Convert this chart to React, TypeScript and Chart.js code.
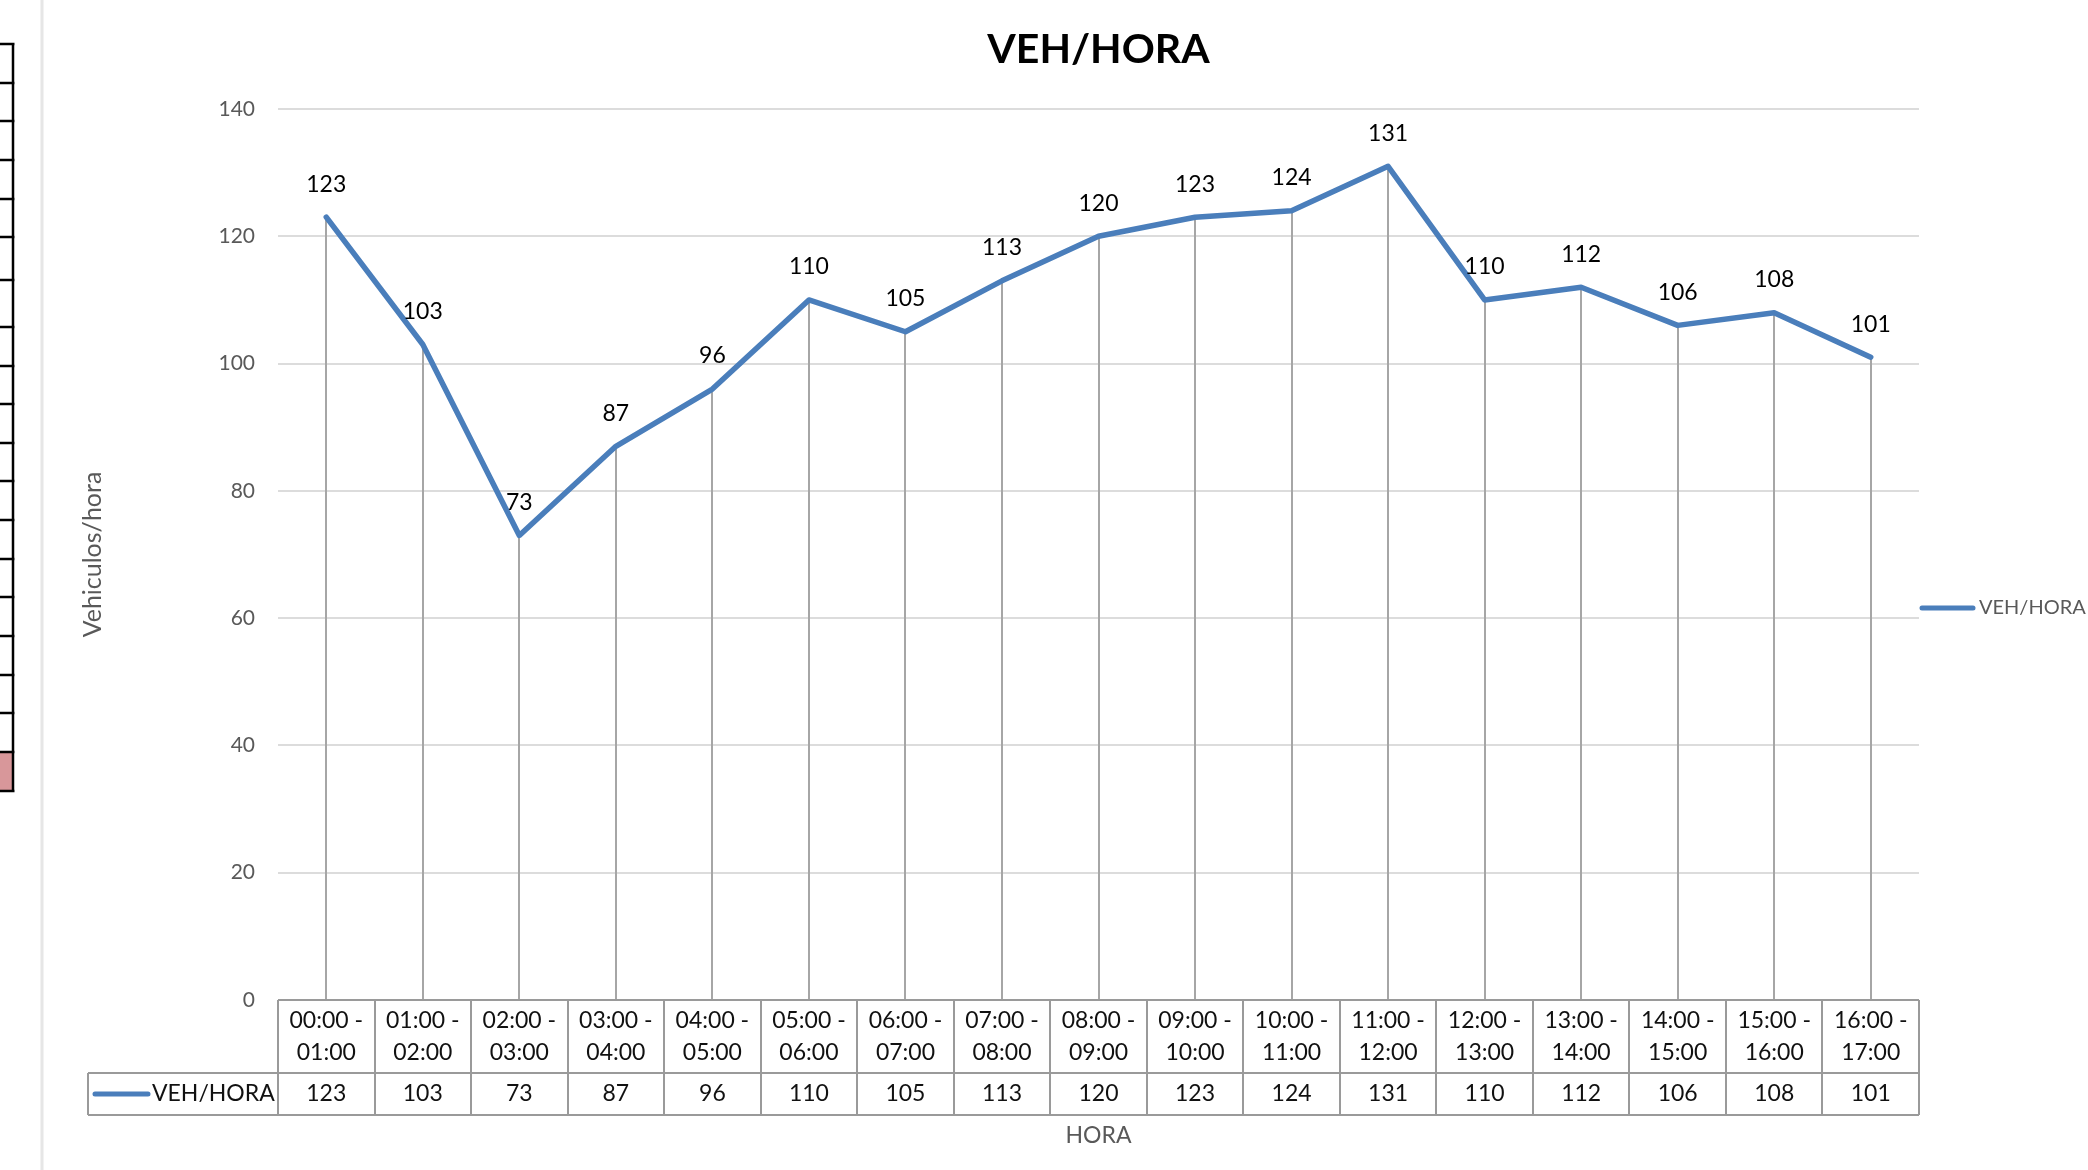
import React, { useEffect, useRef } from "react";
import { Chart, registerables } from "chart.js";

Chart.register(...registerables);

// ---------- data ----------
const categories = [
  "00:00 - 01:00",
  "01:00 - 02:00",
  "02:00 - 03:00",
  "03:00 - 04:00",
  "04:00 - 05:00",
  "05:00 - 06:00",
  "06:00 - 07:00",
  "07:00 - 08:00",
  "08:00 - 09:00",
  "09:00 - 10:00",
  "10:00 - 11:00",
  "11:00 - 12:00",
  "12:00 - 13:00",
  "13:00 - 14:00",
  "14:00 - 15:00",
  "15:00 - 16:00",
  "16:00 - 17:00",
];
const vehPerHour = [123, 103, 73, 87, 96, 110, 105, 113, 120, 123, 124, 131, 110, 112, 106, 108, 101];
const seriesName = "VEH/HORA";
const chartTitle = "VEH/HORA";
const yAxisTitle = "Vehiculos/hora";
const xAxisTitle = "HORA";
const yMin = 0;
const yMax = 140;
const yStep = 20;

// ---------- styles / layout ----------
const FONT = "Lato, 'Open Sans', 'DejaVu Sans', sans-serif";
const BLUE = "#4A7EBB";
const AXIS_GRAY = "#595959";
const W = 2088;
const H = 1170;
// decorative spreadsheet cells on the far left
const SHEET_ROW_EDGES = [44, 83, 121, 160, 199, 237, 280, 327, 366, 404, 443, 481, 520, 559, 597, 636, 675, 713, 752, 791];

const decorPlugin = {
  id: "decor",
  beforeDraw(chart: any) {
    const ctx = chart.ctx as CanvasRenderingContext2D;
    ctx.save();
    ctx.fillStyle = "#ffffff";
    ctx.fillRect(0, 0, chart.width, chart.height);
    const r = SHEET_ROW_EDGES;
    ctx.fillStyle = "#D8979A";
    ctx.fillRect(0, r[r.length - 2], 13, r[r.length - 1] - r[r.length - 2]);
    ctx.strokeStyle = "#000";
    ctx.lineWidth = 2.5;
    ctx.beginPath();
    for (const y of r) {
      ctx.moveTo(0, y);
      ctx.lineTo(14.5, y);
    }
    ctx.moveTo(13, r[0]);
    ctx.lineTo(13, r[r.length - 1]);
    ctx.stroke();
    ctx.strokeStyle = "#E6E6E6";
    ctx.lineWidth = 3;
    ctx.beginPath();
    ctx.moveTo(42, 0);
    ctx.lineTo(42, chart.height);
    ctx.stroke();
    ctx.restore();
  },
  beforeDatasetsDraw(chart: any) {
    const ctx = chart.ctx as CanvasRenderingContext2D;
    const meta = chart.getDatasetMeta(0);
    const bottom = chart.chartArea.bottom;
    ctx.save();
    ctx.strokeStyle = "#A6A6A6";
    ctx.lineWidth = 2;
    ctx.beginPath();
    meta.data.forEach((p: any) => {
      ctx.moveTo(Math.round(p.x), p.y);
      ctx.lineTo(Math.round(p.x), bottom);
    });
    ctx.stroke();
    ctx.restore();
  },
  afterDatasetsDraw(chart: any) {
    const ctx = chart.ctx as CanvasRenderingContext2D;
    const meta = chart.getDatasetMeta(0);
    ctx.save();
    ctx.fillStyle = "#000";
    ctx.font = `23px ${FONT}`;
    ctx.textAlign = "center";
    ctx.textBaseline = "middle";
    meta.data.forEach((p: any, i: number) => {
      ctx.fillText(String(vehPerHour[i]), p.x, p.y - 33);
    });
    ctx.restore();
  },
  afterDraw(chart: any) {
    const ctx = chart.ctx as CanvasRenderingContext2D;
    const { left, right, bottom } = chart.chartArea;
    const xs = chart.scales.x;
    const n = categories.length;
    const colW = (right - left) / n;
    const headTop = bottom;
    const headBot = bottom + 73;
    const valBot = bottom + 115;
    const legendLeft = 88;
    ctx.save();

    // title
    ctx.fillStyle = "#000";
    ctx.font = `bold 41px ${FONT}`;
    ctx.textAlign = "center";
    ctx.textBaseline = "middle";
    ctx.fillText(chartTitle, (left + right) / 2, 50);

    // data table grid
    ctx.strokeStyle = "#9A9A9A";
    ctx.lineWidth = 2;
    ctx.beginPath();
    ctx.moveTo(left, headTop);
    ctx.lineTo(right, headTop);
    ctx.moveTo(legendLeft, headBot);
    ctx.lineTo(right, headBot);
    ctx.moveTo(legendLeft, valBot);
    ctx.lineTo(right, valBot);
    ctx.moveTo(legendLeft, headBot);
    ctx.lineTo(legendLeft, valBot);
    for (let i = 0; i <= n; i++) {
      const x = Math.round(left + i * colW);
      ctx.moveTo(x, headTop);
      ctx.lineTo(x, valBot);
    }
    ctx.stroke();

    // table text
    ctx.fillStyle = "#111";
    ctx.font = `23px ${FONT}`;
    ctx.textAlign = "center";
    ctx.textBaseline = "middle";
    categories.forEach((c, i) => {
      const cx = xs.getPixelForValue(i);
      const [a, b] = c.split(" - ");
      ctx.fillText(a + " -", cx, bottom + 21);
      ctx.fillText(b, cx, bottom + 53);
      ctx.fillText(String(vehPerHour[i]), cx, bottom + 94);
    });

    // legend key in table
    const midY = (headBot + valBot) / 2;
    ctx.strokeStyle = BLUE;
    ctx.lineWidth = 5;
    ctx.lineCap = "round";
    ctx.beginPath();
    ctx.moveTo(95, midY);
    ctx.lineTo(148, midY);
    ctx.stroke();
    ctx.textAlign = "left";
    ctx.fillText(seriesName, 152, midY);

    // right legend
    ctx.beginPath();
    ctx.moveTo(1922, 608);
    ctx.lineTo(1973, 608);
    ctx.stroke();
    ctx.fillStyle = AXIS_GRAY;
    ctx.font = `20px ${FONT}`;
    ctx.fillText(seriesName, 1979, 608);

    ctx.restore();
  },
};

export default function App() {
  const ref = useRef<HTMLCanvasElement | null>(null);

  useEffect(() => {
    if (!ref.current) return;
    const chart = new Chart(ref.current, {
      type: "line",
      data: {
        labels: categories,
        datasets: [
          {
            label: seriesName,
            data: vehPerHour,
            borderColor: BLUE,
            backgroundColor: BLUE,
            borderWidth: 5.5,
            borderJoinStyle: "round",
            borderCapStyle: "round",
            pointRadius: 0,
            pointHoverRadius: 0,
            tension: 0,
            fill: false,
          },
        ],
      },
      options: {
        animation: false,
        responsive: false,
        maintainAspectRatio: false,
        events: [],
        layout: { padding: { top: 109, right: 169, bottom: 0, left: 0 } },
        plugins: {
          legend: { display: false },
          title: { display: false },
          tooltip: { enabled: false },
        },
        scales: {
          x: {
            type: "category",
            offset: true,
            grid: { display: false, drawTicks: false },
            border: { display: false },
            ticks: { display: false },
            title: {
              display: true,
              text: xAxisTitle,
              color: AXIS_GRAY,
              font: { family: FONT, size: 23 },
              padding: { top: 0, bottom: 21 },
            },
            afterFit: (s: any) => {
              s.height = 170;
            },
          },
          y: {
            min: yMin,
            max: yMax,
            grid: { color: "#DCDCDC", lineWidth: 2, drawTicks: false },
            border: { display: false },
            ticks: {
              stepSize: yStep,
              color: AXIS_GRAY,
              font: { family: FONT, size: 21 },
              padding: 23,
            },
            title: {
              display: true,
              text: yAxisTitle,
              color: AXIS_GRAY,
              font: { family: FONT, size: 25 },
              padding: { top: 78, bottom: 0 },
            },
            afterFit: (s: any) => {
              s.width = 278;
            },
          },
        },
      },
      plugins: [decorPlugin],
    });
    return () => chart.destroy();
  }, []);

  return (
    <div style={{ position: "absolute", left: 0, top: 0, width: W, height: H, background: "#fff" }}>
      <canvas ref={ref} width={W} height={H} style={{ display: "block", width: W, height: H }} />
    </div>
  );
}
